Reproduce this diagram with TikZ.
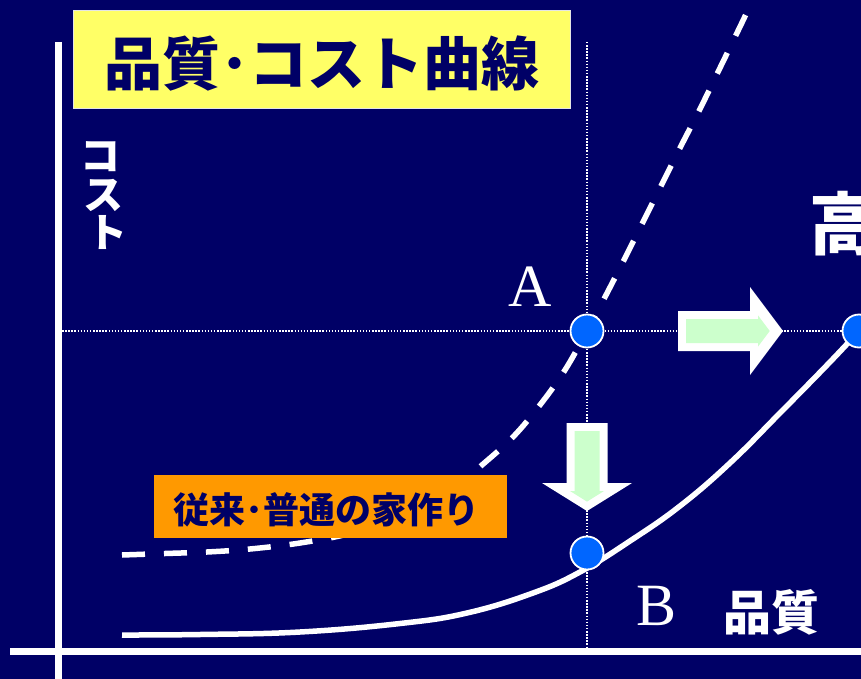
\documentclass[tikz,border=0pt]{standalone}
\usepackage{fontspec}
\setmainfont{Liberation Serif}
\newfontfamily\jp{Noto Sans CJK JP}
\definecolor{navybg}{RGB}{0,0,102}
\definecolor{titleyellow}{RGB}{255,255,102}
\definecolor{dotblue}{RGB}{0,102,255}
\definecolor{arrowgreen}{RGB}{204,255,204}
\definecolor{labelorange}{RGB}{255,153,0}
\begin{document}
\begin{tikzpicture}[x=1pt,y=-1pt,
  axisline/.style={white, line width=7pt},
  guide/.style={white, line width=1.4pt, dash pattern=on 1.5pt off 1.6pt},
  curveline/.style={white, line width=5.5pt},
  dashcurve/.style={white, line width=5.5pt, dash pattern=on 23pt off 19pt},
  dot/.style={circle, fill=dotblue, draw=white, line width=1.8pt, minimum size=33pt, inner sep=0pt},
  jpfont/.style={font=\jp\bfseries\fontsize{#1}{#1}\selectfont, inner sep=0pt},
  titlebox/.style={fill=titleyellow, draw=white!80!gray, line width=1.5pt, minimum width=497pt, minimum height=98pt, inner sep=0pt},
  tagbox/.style={fill=labelorange, minimum width=353pt, minimum height=63pt, inner sep=0pt},
  arrowout/.style={fill=white},
  arrowin/.style={fill=arrowgreen},
  letter/.style={white, font=\fontsize{60}{60}\selectfont, inner sep=0pt, anchor=base}
]
\fill[navybg] (0,0) rectangle (861,679);
\useasboundingbox (0,0) rectangle (861,679);
\clip (0,0) rectangle (861,679);

% coordinates
\coordinate (ytop) at (58,42);
\coordinate (ybot) at (58,679);
\coordinate (xleft) at (10,651);
\coordinate (xright) at (861,651);
\coordinate (hgl) at (62,331);
\coordinate (hgr) at (861,331);
\coordinate (vgt) at (587,42);
\coordinate (vgb) at (587,651);

% guides
\draw[guide] (hgl) -- (hgr);
\draw[guide] (vgt) -- (vgb);

% axes
\draw[axisline] (ytop) -- (ybot);
\draw[axisline] (xleft) -- (xright);

% point positions
\path (587,331) coordinate (pA) (587,553) coordinate (pB) (859,331) coordinate (pC);

% dashed curve
\draw[dashcurve] plot[smooth, tension=0.6] coordinates {(122,555) (165,553.5) (207,552) (250,549) (300,543) (350,533.5) (400,517.5) (450,491.5) (482,465) (513,437) (540,405) (565,370) (pA) (605,297) (624,260) (643,222) (662,184) (681,146) (700,109) (718,72) (736,35) (747,12) (753,-2)};

% solid curve
\draw[curveline] plot[smooth, tension=0.7] coordinates {(122,635) (200,634.5) (300,632) (400,623.5) (467,613) (533,593) (580,572) (630,541) (680,506) (730,463) (780,413) (830,362) (pC)};

% title
\node[titlebox] (title) at (322,59.5) {};
\node[jpfont=58, text=navybg] (titletext) at (322,64) {品質･コスト曲線};

% orange label
\node[tagbox] (tag) at (330.5,506.5) {};
\node[jpfont=36, text=navybg] (tagtext) at (326,509.5) {従来･普通の家作り};

% down arrow
\fill[arrowout] (566.5,423) -- (607.5,423) -- (607.5,483) -- (632,483) -- (587,511) -- (542,483) -- (566.5,483) -- cycle;
\fill[arrowin] (574.5,431) -- (599.5,431) -- (599.5,491) -- (604,491) -- (587,501.6) -- (570,491) -- (574.5,491) -- cycle;

% right arrow
\fill[arrowout] (678,311) -- (750,311) -- (750,287) -- (783,331) -- (750,375) -- (750,351) -- (678,351) -- cycle;
\fill[arrowin] (686,319) -- (758,319) -- (758,315.4) -- (769.7,331) -- (758,346.6) -- (758,343) -- (686,343) -- cycle;

% dots
\node[dot] (dA) at (pA) {};
\node[dot] (dB) at (pB) {};
\node[dot] (dC) at (pC) {};

% labels
\node[letter] (lA) at (530.5,306) {A};
\node[letter] (lB) at (656.5,625) {B};
\node[jpfont=48, text=white] (quality) at (771,612) {品質};
\node[jpfont=68, text=white] (high) at (843,224) {高};
\node[jpfont=40, text=white] (cost1) at (100,157) {コ};
\node[jpfont=40, text=white] (cost2) at (103,195) {ス};
\node[jpfont=40, text=white] (cost3) at (107,232) {ト};
\end{tikzpicture}
\end{document}
